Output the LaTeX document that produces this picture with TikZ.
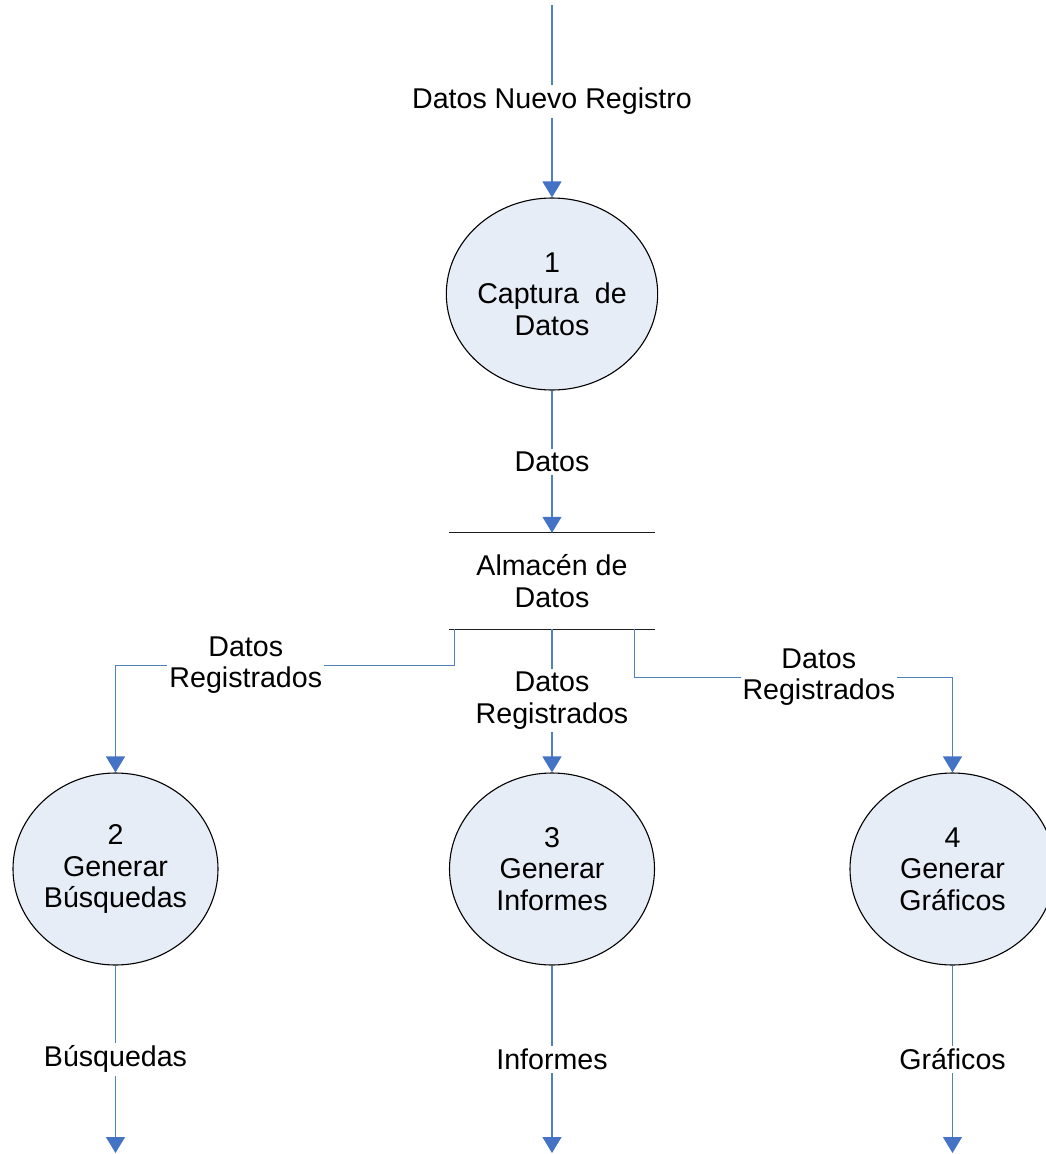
\documentclass[tikz,border=0pt]{standalone}
\usepackage{fontspec}
\setmainfont{Liberation Sans}
\usetikzlibrary{arrows.meta,shapes.geometric}
\definecolor{flowline}{RGB}{79,129,189}
\definecolor{flowtip}{RGB}{68,114,196}
\definecolor{procfill}{RGB}{231,237,247}
\definecolor{storeline}{RGB}{30,30,30}

\begin{document}
\begin{tikzpicture}[x=1pt,y=-1pt,
  every node/.style={font=\fontsize{28.6}{31.5}\selectfont},
  process/.style={ellipse, draw=black, line width=1.1pt, fill=procfill,
    minimum width=205pt, minimum height=192pt, align=center, inner sep=0pt},
  datastore/.style={minimum width=206pt, minimum height=96pt, align=center, inner sep=0pt},
  flow/.style={draw=flowline, line width=1.3pt,
    -{Triangle[width=19pt,length=16pt,fill=flowtip,color=flowtip]}},
  lbl/.style={fill=white, align=center, inner xsep=2pt, inner ysep=3pt},
]
\useasboundingbox (0,0) rectangle (1046,1154);

% processes
\node[process] (c1) at (552,294) {1\\Captura~ de\\Datos};
\node[process] (c2) at (115.5,869) {2\\Generar\\Búsquedas};
\node[process] (c3) at (552,869) {3\\Generar\\Informes};
\node[process] (c4) at (952.5,869) {4\\Generar\\Gráficos};

% data store
\node[datastore] (store) at (552,581) {Almacén de\\Datos};
\draw[storeline, line width=1.3pt] (store.north west) -- (store.north east);
\draw[storeline, line width=1.3pt] (store.south west) -- (store.south east);

% free ends
\coordinate (src) at (552,5);
\coordinate (o2) at (115.5,1153);
\coordinate (o3) at (552,1153);
\coordinate (o4) at (952.5,1153);

% flows
\draw[flow] (src) -- node[lbl] {Datos Nuevo Registro} (c1.north);
\draw[flow] (c1.south) -- node[lbl] {Datos} (store.north);
\draw[flow] ([xshift=6pt]store.south west) -- ++(0,36)
  -| node[lbl, pos=0.308] {Datos\\Registrados} (c2.north);
\draw[flow] (store.south) -- node[lbl, pos=0.5] {Datos\\Registrados} (c3.north);
\draw[flow] ([xshift=-21pt]store.south east) -- ++(0,48)
  -| node[lbl, pos=0.29] {Datos\\Registrados} (c4.north);
\draw[flow] (c2.south) -- node[lbl] {Búsquedas} (o2);
\draw[flow] (c3.south) -- node[lbl] {Informes} (o3);
\draw[flow] (c4.south) -- node[lbl] {Gráficos} (o4);
\end{tikzpicture}
\end{document}
